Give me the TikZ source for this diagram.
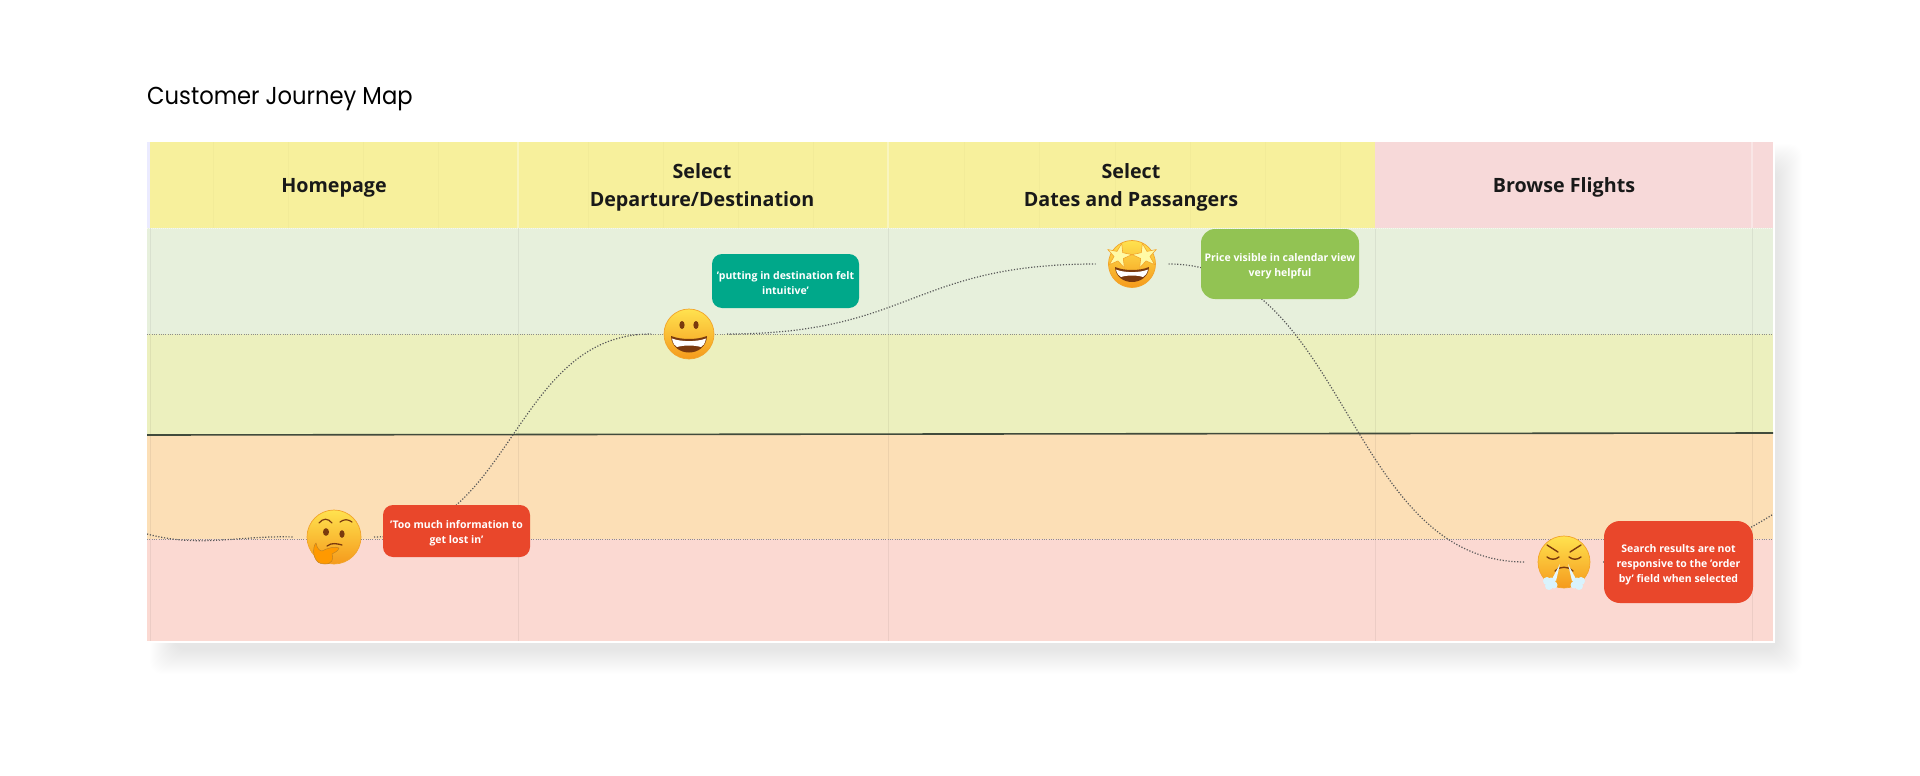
\documentclass[tikz,border=0pt]{standalone}
\usepackage{fontspec}
\setmainfont{Open Sans}
\newfontfamily\titlefont[FakeStretch=.925]{Poppins}
\usepackage{xcolor}
\definecolor{headyellow}{HTML}{F7F09C}
\definecolor{headpink}{HTML}{F7D9D9}
\definecolor{rowgreen}{HTML}{E7F0DC}
\definecolor{rowlime}{HTML}{ECF0BE}
\definecolor{roworange}{HTML}{FCDFB6}
\definecolor{rowpink}{HTML}{FBD9D2}
\definecolor{notered}{HTML}{E9472B}
\definecolor{noteteal}{HTML}{00A88A}
\definecolor{notegreen}{HTML}{92C353}
\definecolor{facetop}{HTML}{FFE24F}
\definecolor{facebot}{HTML}{F59A1C}
\definecolor{faceedge}{HTML}{F2A42A}
\definecolor{mouthbrown}{HTML}{7A3A0E}
\definecolor{midline}{HTML}{414B3C}
\newcommand{\notepad}{\rule{0pt}{13pt}}
\tikzset{
  heading/.style={font=\bfseries\fontsize{19.7}{28}\selectfont, text=black!90, align=center},
  note/.style={rounded corners=#1, text=white, align=center, inner sep=0pt, font=\bfseries\fontsize{10.5}{15}\selectfont},
  emoji/.style={circle, minimum size=#1, inner sep=0pt, outer sep=13pt, draw=faceedge, line width=.7pt, top color=facetop, bottom color=facebot},
  trail/.style={line width=1.2pt, black!65, dash pattern=on 1.2pt off 1.7pt},
  rowline/.style={line width=1pt, black!45, dash pattern=on 1pt off 1.3pt},
  celldiv/.style={line width=1pt, black, opacity=.06},
  smileface/.pic={
    \fill[mouthbrown] (-7,-9) ellipse (2.6 and 4);
    \fill[mouthbrown] (7,-9) ellipse (2.6 and 4);
    \fill[mouthbrown] (-18,2) .. controls (-8,6) and (8,6) .. (18,2) .. controls (17,24) and (-17,24) .. cycle;
    \fill[white] (-17,4.5) .. controls (-8,8) and (8,8) .. (17,4.5) .. controls (16,10) and (14,12) .. (12,13) .. controls (5,11) and (-5,11) .. (-12,13) .. controls (-14,12) and (-16,10) .. cycle;
  },
  starryface/.pic={
    \fill[mouthbrown] (-17,3) .. controls (-8,7) and (8,7) .. (17,3) .. controls (16,23) and (-16,23) .. cycle;
    \fill[white] (-16,5.5) .. controls (-8,9) and (8,9) .. (16,5.5) .. controls (15,10) and (13,12) .. (11,13) .. controls (5,11) and (-5,11) .. (-11,13) .. controls (-13,12) and (-15,10) .. cycle;
    \foreach \sx/\turn in {-13/-12,13/12}
      \draw[fill=yellow!35!white, draw=faceedge, line width=.6pt, line join=round, shift={(\sx,-8)}, rotate=\turn]
        (-90:13) -- (-54:5) -- (-18:13) -- (18:5) -- (54:13) -- (90:5) -- (126:13) -- (162:5) -- (198:13) -- (234:5) -- cycle;
  },
  thinkface/.pic={
    \draw[mouthbrown, line width=1.2pt, line cap=round] (-15,-14) .. controls (-11,-19) and (-6,-19) .. (-2,-14);
    \draw[mouthbrown, line width=1.2pt, line cap=round] (6,-15) .. controls (10,-18) and (14,-18) .. (18,-15);
    \fill[mouthbrown] (-8,-5) ellipse (3 and 3.8);
    \fill[mouthbrown] (8,-3) ellipse (2.6 and 3.8);
    \draw[mouthbrown, line width=1.3pt, line cap=round] (-7,9) .. controls (-2,5) and (4,7) .. (8,8);
    \draw[fill=orange!80!yellow, draw=faceedge!80!black, line width=.5pt, line join=round] (-18,6) .. controls (-17,12) and (-14,14) .. (-12,14)
      .. controls (-7,11) and (2,9) .. (5,11) .. controls (4,15) and (0,15) .. (-2,17) .. controls (0,22) and (-2,27) .. (-9,27)
      .. controls (-15,27) and (-18,25) .. (-20,18) .. controls (-21,13) and (-20,8) .. cycle;
  },
  angryface/.pic={
    \draw[mouthbrown, line width=1.4pt, line cap=round] (-17,-17) -- (-6,-10);
    \draw[mouthbrown, line width=1.4pt, line cap=round] (17,-17) -- (6,-10);
    \draw[mouthbrown, line width=1.4pt, line cap=round] (-17,-5) .. controls (-13,-2) and (-9,-2) .. (-5,-5);
    \draw[mouthbrown, line width=1.4pt, line cap=round] (17,-5) .. controls (13,-2) and (9,-2) .. (5,-5);
    \draw[mouthbrown, line width=1.4pt, line cap=round] (-9,9) .. controls (-5,4) and (5,4) .. (9,9);
    \fill[white!90!cyan] (-4,2) -- (-12,17) -- (-8,19) -- cycle;
    \fill[white!90!cyan] (4,2) -- (12,17) -- (8,19) -- cycle;
    \foreach \sx in {-1,1} {
      \fill[white!85!cyan] (\sx*13,20) circle (4.5);
      \fill[white!85!cyan] (\sx*17,19) circle (4);
      \fill[white!85!cyan] (\sx*10,23) circle (3.5);
      \fill[white!85!cyan] (\sx*15,24) circle (4);
    }
  }
}
\begin{document}
\begin{tikzpicture}[x=1pt,y=-1pt]
\useasboundingbox (0,0) rectangle (1920,776);
\fill[white] (0,0) rectangle (1920,776);

% soft shadow
\foreach \i in {0,...,24}
  \fill[black, opacity=.0035, rounded corners=12] ({150+\i},{144+\i}) rectangle ({1802-\i},{674-\i});

% bands
\fill[white] (147,142) rectangle (1775,643);
\fill[headyellow] (147,142) rectangle (1375,228);
\fill[headpink] (1375,142) rectangle (1773,228);
\fill[rowgreen] (147,228) rectangle (1773,334);
\fill[rowlime] (147,334) rectangle (1773,434);
\fill[roworange] (147,434) rectangle (1773,539);
\fill[rowpink] (147,539) rectangle (1773,641);
\fill[blue!8!white] (147,142) rectangle (150,228);

% faint stripes in the header
\foreach \x in {213,288,363,438,588,663,738,813,964,1039,1115,1190,1265,1340}
  \draw[black, opacity=.02, line width=1pt] (\x,142)--(\x,228);
\foreach \x in {518,888,1752}
  \draw[white, opacity=.35, line width=1.2pt] (\x,142)--(\x,228);
\foreach \x in {150,518,888,1375,1752}
  \draw[celldiv] (\x,228)--(\x,641);

\draw[white, opacity=.6, line width=1pt, dash pattern=on 1pt off 1pt] (147,228)--(1773,228);
\draw[rowline] (147,334)--(1773,334);
\draw[rowline] (147,539)--(1773,539);
\draw[midline, line width=1.6pt] (147,435)--(1773,433);

\node[font=\titlefont\fontsize{24.5}{30}\selectfont, anchor=west, inner sep=0pt] (title) at (147,99.5) {Customer Journey Map};
\node[heading] (homepage) at (334,187.5) {Homepage};
\node[heading] (departure) at (702,187.5) {Select\\Departure/Destination};
\node[heading] (dates) at (1131,187.5) {Select\\Dates and Passangers};
\node[heading] (browse) at (1564,187.5) {Browse Flights};

\node[emoji=54pt] (think) at (334,537) {};
\node[emoji=50pt] (smile) at (689,334) {};
\node[emoji=47pt] (starry) at (1132,264) {};
\node[emoji=52pt] (angry) at (1564,562) {};
\coordinate (prevface) at (147,534);
\coordinate (nextface) at (2060,380);

\begin{scope}
\clip (147,142) rectangle (1773,641);
\draw[trail] (prevface) to[out=-15,in=178,distance=55pt] (think.west);
\draw[trail] (think.east) to[out=0,in=180,distance=138pt] (smile.west);
\draw[trail] (smile.east) to[out=0,in=180,distance=184pt] (starry.west);
\draw[trail] (starry.east) to[out=0,in=180,distance=178pt] (angry.west);
\draw[trail] (angry.east) to[out=0,in=180,distance=228pt] (nextface);
\end{scope}

\pic at (think) {thinkface};
\pic at (smile) {smileface};
\pic at (starry) {starryface};
\pic at (angry) {angryface};

\node[note=10pt, fill=notered, minimum width=147pt, minimum height=52pt] (toomuch) at (456.5,531) {\notepad'Too much information to\\get lost in'};
\node[note=10pt, fill=noteteal, minimum width=147pt, minimum height=54pt] (intuitive) at (785.5,281) {\notepad'putting in destination felt\\intuitive'};
\node[note=14pt, fill=notegreen, minimum width=158pt, minimum height=70pt] (calendar) at (1280,264) {\notepad Price visible in calendar view\\very helpful};
\node[note=16pt, fill=notered, minimum width=149pt, minimum height=82pt] (search) at (1678.5,562) {\notepad Search results are not\\responsive to the 'order\\by' field when selected};
\end{tikzpicture}
\end{document}
